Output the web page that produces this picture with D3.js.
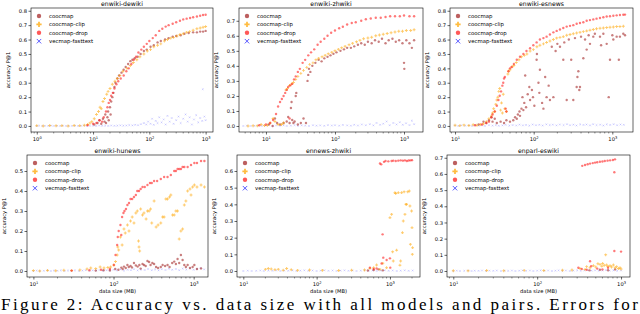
<!DOCTYPE html>
<html>
<head>
<meta charset="utf-8">
<script src="https://cdn.jsdelivr.net/npm/d3@7"></script>
<style>
  body { margin: 0; background: #fff; }
  svg { display: block; }
</style>
</head>
<body>
<div id="chart"></div>
<script>
// ---- data: [data size (MB), accuracy P@1] ----
const series_names = ['coocmap', 'coocmap-clip', 'coocmap-drop', 'vecmap-fasttext'];
const pair_titles = ['enwiki-dewiki', 'enwiki-zhwiki', 'enwiki-esnews', 'enwiki-hunews', 'ennews-zhwiki', 'enparl-eswiki'];

// enwiki-dewiki
const de_cooc = [[10.5,0.01],[12,0.02],[13,0.04],[14,0.015],[15,0.05],[16,0.03],[16.5,0.08],[17,0.02],[18,0.06],[18.5,0.1],[19,0.04],[20,0.13],[20.5,0.08],[21,0.17],[22,0.2],[23,0.23],[24,0.27],[25,0.3],[27,0.33],[29,0.35],[32,0.37],[35,0.39],[38,0.41],[42,0.43],[46,0.45],[50,0.46],[55,0.47],[62,0.48],[70,0.5],[80,0.52],[90,0.53],[105,0.55],[120,0.56],[140,0.58],[160,0.59],[190,0.6],[220,0.61],[260,0.62],[300,0.625],[360,0.63],[420,0.64],[500,0.645],[600,0.65],[700,0.65],[800,0.655],[900,0.655],[1000,0.66]];
const de_clip = [[1,0.002],[1.3,0],[1.7,0.003],[2.2,0.001],[2.8,0.002],[3.6,0],[4.6,0.003],[5.8,0.002],[7,0.005],[8,0.01],[8.8,0.02],[9.5,0.03],[10.5,0.05],[11.5,0.08],[12.5,0.1],[13.3,0.13],[14,0.12],[15,0.17],[16,0.19],[17.5,0.22],[18.5,0.24],[20,0.26],[22,0.29],[24.5,0.31],[27,0.33],[30,0.35],[34,0.38],[40,0.4],[46,0.42],[52,0.44],[60,0.46],[68,0.48],[80,0.5],[92,0.52],[105,0.53],[120,0.55],[140,0.56],[160,0.57],[185,0.59],[210,0.6],[240,0.61],[270,0.615],[310,0.625],[350,0.635],[400,0.64],[460,0.65],[520,0.655],[600,0.665],[700,0.675],[800,0.68],[900,0.685],[1000,0.69]];
const de_drop = [[8,0.005],[10,0.015],[11.5,0.02],[13,0.04],[14.5,0.03],[15.5,0.06],[17,0.1],[18,0.13],[19,0.16],[20,0.18],[21,0.21],[22.5,0.23],[24,0.26],[26,0.29],[28,0.31],[31,0.33],[35,0.35],[39,0.38],[43,0.4],[48,0.43],[53,0.46],[58,0.48],[64,0.51],[72,0.53],[80,0.55],[90,0.57],[100,0.59],[115,0.61],[130,0.63],[150,0.66],[170,0.675],[195,0.69],[220,0.7],[260,0.71],[300,0.72],[350,0.73],[400,0.74],[460,0.745],[530,0.75],[600,0.755],[700,0.76],[800,0.765],[900,0.77],[1000,0.772]];
const de_vec = [[1,0],[1.1,0.002],[1.25,0],[1.4,0.001],[1.6,0],[1.8,0.002],[2,0],[2.3,0.001],[2.6,0],[2.9,0.002],[3.3,0],[3.7,0.001],[4.2,0],[4.8,0.002],[5.4,0],[6.1,0.001],[6.9,0.003],[7.8,0],[8.8,0.002],[10,0.001],[11.3,0],[12.8,0.003],[14.5,0.001],[16.4,0.002],[18.6,0],[21,0.003],[24,0.001],[27,0.002],[30.5,0.004],[34.5,0.002],[39,0.003],[44,0.006],[50,0.004],[56,0.008],[63,0.005],[71,0.012],[80,0.02],[88,0.01],[95,0.03],[105,0.015],[112,0.05],[120,0.008],[130,0.035],[140,0.02],[150,0.06],[165,0.025],[180,0.045],[195,0.01],[210,0.07],[230,0.03],[250,0.055],[270,0.015],[300,0.04],[330,0.065],[360,0.02],[400,0.05],[440,0.08],[480,0.03],[520,0.06],[570,0.01],[620,0.045],[680,0.075],[740,0.025],[800,0.055],[870,0.035],[890,0.255],[950,0.065],[1000,0.04]];

// enwiki-zhwiki
const zh_cooc = [[11,0.01],[12.5,0],[13.5,0.05],[14.5,0.02],[16,0.01],[18,0.02],[20,0.03],[21,0.06],[22,0.02],[23,0.12],[23.5,0.16],[24,0.04],[25,0.02],[26,0.03],[27,0.2],[27.5,0.22],[29,0.01],[32,0.02],[35,0.05],[38,0.02],[40,0.3],[41,0.34],[42,0.38],[44,0.36],[47,0.4],[52,0.42],[58,0.44],[64,0.43],[70,0.45],[78,0.46],[86,0.47],[95,0.48],[105,0.49],[120,0.5],[135,0.51],[150,0.52],[170,0.52],[190,0.53],[215,0.54],[240,0.55],[270,0.54],[300,0.56],[340,0.55],[380,0.57],[430,0.56],[480,0.58],[540,0.55],[600,0.57],[680,0.58],[760,0.56],[850,0.57],[950,0.55],[1000,0.42],[1010,0.38],[1080,0.57],[1200,0.55],[1300,0.52],[1400,0.57]];
const zh_clip = [[5.5,0],[6.5,0.002],[7.5,0.001],[8.5,0.01],[9.5,0.003],[10.5,0.005],[11.5,0.02],[12.7,0.05],[13.5,0.03],[15,0.01],[16.8,0.01],[18,0.02],[19.5,0.24],[20.5,0.25],[22,0.27],[23.5,0.28],[25,0.29],[27,0.31],[29,0.33],[32,0.35],[35,0.37],[39,0.39],[43,0.41],[48,0.42],[53,0.44],[58,0.45],[65,0.46],[72,0.47],[80,0.48],[90,0.49],[100,0.5],[112,0.51],[125,0.52],[140,0.53],[160,0.54],[180,0.55],[205,0.56],[230,0.57],[260,0.58],[300,0.585],[340,0.59],[390,0.6],[440,0.605],[500,0.61],[570,0.615],[650,0.62],[740,0.625],[840,0.63],[950,0.63],[1080,0.635],[1250,0.635],[1400,0.64]];
const zh_drop = [[8,0.005],[10,0.01],[11.5,0.02],[12.7,0.04],[14,0.08],[15,0.13],[16,0.16],[17,0.18],[18,0.2],[19,0.22],[20,0.24],[21,0.26],[22,0.05],[22.5,0.27],[24,0.28],[25.5,0.31],[27,0.33],[29,0.36],[31,0.38],[34,0.42],[37,0.44],[41,0.47],[45,0.49],[50,0.51],[56,0.54],[62,0.56],[70,0.58],[78,0.6],[88,0.62],[100,0.635],[115,0.65],[130,0.66],[150,0.675],[175,0.685],[200,0.69],[240,0.7],[280,0.71],[330,0.715],[390,0.72],[460,0.72],[540,0.725],[630,0.73],[740,0.73],[870,0.73],[1000,0.735],[1200,0.73],[1400,0.73]];
const zh_vec = [[4.7,0],[5.3,0.002],[6,0],[6.8,0.001],[7.7,0.003],[8.7,0],[9.8,0.002],[11,0.01],[12.5,0],[14,0.003],[16,0.001],[18,0.004],[20,0],[23,0.002],[26,0.006],[29,0.001],[33,0.004],[37,0.002],[42,0],[48,0.005],[54,0.002],[61,0.004],[70,0.001],[79,0.006],[90,0.003],[100,0.005],[115,0.002],[130,0.007],[150,0.004],[170,0.002],[190,0.008],[215,0.003],[245,0.01],[280,0.005],[320,0.012],[360,0.004],[400,0.02],[450,0.008],[500,0.015],[560,0.03],[620,0.005],[700,0.02],[780,0.01],[870,0.025],[960,0.008],[1070,0.018],[1200,0.006],[1300,0.035],[1400,0.012]];

// enwiki-esnews
const es_cooc = [[20,0.01],[23,0.03],[25,0.02],[27,0.04],[29,0.06],[30,0.03],[32,0.05],[34,0.02],[38,0.03],[42,0.02],[45,0.04],[50,0.03],[55,0.04],[58,0.06],[61,0.05],[63,0.08],[66,0.1],[67,0.07],[70,0.12],[72,0.2],[74,0.11],[76,0.16],[78,0.35],[80,0.13],[84,0.22],[88,0.27],[90,0.18],[95,0.25],[98,0.2],[102,0.14],[109,0.46],[110,0.5],[115,0.3],[118,0.23],[120,0.39],[128,0.16],[133,0.12],[140,0.34],[146,0.2],[155,0.28],[161,0.18],[170,0.55],[178,0.2],[190,0.52],[200,0.57],[216,0.55],[238,0.46],[245,0.58],[263,0.18],[280,0.6],[300,0.46],[319,0.18],[335,0.61],[352,0.27],[360,0.34],[370,0.38],[380,0.25],[388,0.27],[400,0.62],[428,0.47],[450,0.6],[472,0.53],[500,0.63],[520,0.57],[573,0.62],[600,0.64],[697,0.62],[720,0.56],[769,0.64],[848,0.57],[900,0.2],[934,0.46],[1000,0.63],[1030,0.6],[1135,0.62],[1210,0.46],[1250,0.62],[1380,0.64],[1450,0.63]];
const es_clip = [[10,0.005],[11.5,0.002],[13,0.006],[15,0.003],[17,0.008],[19,0.005],[21,0.01],[23,0.015],[25,0.03],[27,0.05],[29,0.07],[30,0.09],[31,0.12],[32,0.1],[33,0.15],[34,0.18],[35,0.2],[36,0.24],[37,0.26],[38,0.11],[39,0.16],[40,0.09],[41,0.22],[43,0.12],[45,0.1],[47,0.36],[48,0.38],[50,0.39],[53,0.41],[56,0.42],[60,0.44],[65,0.46],[70,0.48],[76,0.49],[82,0.5],[90,0.52],[99,0.53],[110,0.55],[120,0.56],[133,0.57],[146,0.58],[161,0.59],[178,0.6],[196,0.61],[216,0.615],[238,0.62],[263,0.63],[290,0.635],[319,0.64],[352,0.645],[388,0.65],[428,0.655],[472,0.66],[520,0.665],[573,0.67],[630,0.675],[697,0.678],[769,0.68],[848,0.683],[934,0.685],[1030,0.687],[1135,0.69],[1250,0.69],[1380,0.692]];
const es_drop = [[18,0.005],[22,0.01],[25,0.02],[27,0.03],[29,0.06],[30,0.08],[32,0.1],[34,0.14],[35.6,0.18],[37,0.21],[38.5,0.24],[40,0.28],[41,0.3],[42,0.33],[43,0.34],[44,0.12],[45,0.1],[47.7,0.38],[50,0.4],[52.5,0.41],[56,0.43],[61,0.46],[67,0.48],[74,0.5],[81,0.52],[90,0.54],[99,0.56],[109,0.58],[120,0.6],[133,0.61],[146,0.62],[161,0.635],[178,0.65],[196,0.66],[216,0.67],[238,0.68],[263,0.69],[290,0.695],[319,0.7],[352,0.71],[388,0.715],[428,0.72],[472,0.73],[520,0.735],[573,0.74],[630,0.745],[697,0.75],[769,0.755],[848,0.76],[934,0.762],[1030,0.765],[1135,0.768],[1250,0.77],[1380,0.772],[1450,0.773]];
const es_vec = [[10,0.003],[11,0],[12,0.005],[13.5,0.001],[15,0.004],[16.5,0],[18,0.006],[20,0.002],[22,0.004],[24,0],[27,0.005],[30,0.002],[33,0.006],[36,0.001],[40,0.004],[44,0.008],[49,0.002],[54,0.006],[60,0.003],[66,0.009],[73,0.004],[80,0.007],[88,0.002],[97,0.01],[107,0.005],[118,0.008],[130,0.003],[145,0.011],[160,0.006],[175,0.009],[195,0.004],[215,0.01],[240,0.006],[265,0.012],[290,0.005],[320,0.009],[350,0.003],[390,0.011],[430,0.007],[470,0.01],[520,0.004],[570,0.012],[630,0.006],[700,0.009],[770,0.003],[850,0.011],[940,0.007],[1040,0.012],[1150,0.005],[1270,0.01],[1400,0.008]];

// enwiki-hunews
const hu_cooc = [[60,0.002],[75,0.004],[90,0.003],[105,0.01],[115,0.006],[125,0.017],[130,0.01],[135,0.022],[142,0.015],[149,0.03],[155,0.02],[163,0.025],[170,0.018],[180,0.04],[190,0.028],[200,0.022],[210,0.03],[218,0.012],[230,0.035],[240,0.03],[252,0.025],[265,0.05],[278,0.045],[290,0.03],[305,0.04],[321,0.035],[340,0.02],[360,0.015],[389,0.02],[410,0.03],[440,0.025],[472,0.03],[500,0.02],[540,0.04],[572,0.047],[600,0.035],[630,0.06],[660,0.04],[693,0.08],[728,0.055],[764,0.03],[800,0.02],[841,0.03],[900,0.015],[971,0.02],[1020,0.03],[1100,0.01],[1236,0.013]];
const hu_clip = [[10,0.002],[12,0],[15,0.003],[19,0.001],[24,0.004],[30,0.002],[38,0.005],[46.7,0.01],[52,0.015],[60,0.012],[68,0.02],[76,0.015],[85,0.018],[92,0.02],[101,0.03],[106,0.047],[111,0.08],[113,0.12],[116,0.105],[122,0.17],[128,0.13],[135,0.21],[140,0.19],[149,0.23],[156,0.2],[163,0.25],[171,0.27],[180,0.24],[190,0.29],[198,0.3],[205,0.15],[208,0.12],[212,0.1],[218,0.31],[230,0.28],[240,0.29],[255,0.26],[265,0.3],[278,0.3],[290,0.31],[300,0.24],[321,0.35],[340,0.22],[360,0.23],[389,0.24],[410,0.27],[428,0.27],[450,0.36],[472,0.36],[500,0.37],[519,0.38],[545,0.28],[572,0.28],[600,0.3],[630,0.3],[660,0.16],[693,0.2],[728,0.21],[764,0.33],[800,0.35],[841,0.4],[900,0.41],[927,0.38],[971,0.42],[1020,0.43],[1100,0.42],[1236,0.43],[1362,0.42]];
const hu_drop = [[30,0.002],[50,0.004],[70,0.006],[90,0.01],[101,0.03],[106,0.08],[111,0.13],[113,0.17],[116,0.2],[122,0.23],[125,0.18],[128,0.27],[133,0.29],[137,0.3],[143,0.31],[149,0.33],[156,0.34],[163,0.36],[171,0.36],[180,0.37],[190,0.38],[198,0.4],[208,0.4],[218,0.41],[230,0.42],[245,0.42],[265,0.43],[285,0.44],[300,0.44],[321,0.45],[350,0.45],[389,0.46],[428,0.47],[472,0.47],[519,0.48],[572,0.5],[600,0.5],[630,0.51],[660,0.51],[693,0.51],[728,0.52],[764,0.52],[841,0.52],[927,0.53],[1020,0.54],[1100,0.54],[1236,0.55],[1362,0.55]];
const hu_vec = [[10,0],[11,0.002],[12,0],[13.5,0.001],[15,0.003],[16.5,0],[18,0.002],[20,0.001],[22,0.003],[24.5,0],[27,0.002],[30,0.001],[33,0.003],[37,0],[41,0.002],[45,0.004],[50,0.001],[55,0.003],[61,0.002],[67,0.005],[74,0.001],[82,0.004],[90,0.002],[100,0.006],[110,0.003],[122,0.008],[135,0.002],[150,0.006],[165,0.004],[180,0.009],[200,0.003],[220,0.007],[245,0.005],[270,0.01],[300,0.004],[330,0.008],[365,0.003],[400,0.009],[445,0.005],[490,0.011],[540,0.006],[600,0.01],[660,0.004],[730,0.012],[810,0.007],[900,0.013],[1000,0.006],[1100,0.01],[1220,0.015],[1350,0.008]];

// ennews-zhwiki
const nz_cooc = [[500,0.003],[600,0.006],[700,0.01],[800,0.004]];
const nz_clip = [[20,0.01],[21.9,0.015],[24,0.012],[27,0.008],[30,0.01],[35,0.005],[39,0.015],[45,0.008],[55,0.004],[80,0.006],[120,0.004],[200,0.003],[300,0.005],[450,0.006],[533,0.016],[600,0.02],[658,0.036],[731,0.01],[800,0.046],[900,0.02],[1000,0.32],[1054,0.34],[1088,0.115],[1110,0.06],[1169,0.47],[1200,0.465],[1233,0.125],[1300,0.47],[1368,0.035],[1400,0.06],[1442,0.47],[1480,0.23],[1520,0.3],[1560,0.475],[1602,0.34],[1650,0.4],[1689,0.4],[1750,0.475],[1835,0.48],[1874,0.39],[1900,0.16],[1974,0.36],[2000,0.26],[2020,0.1],[2037,0.14]];
const nz_drop = [[533,0.02],[600,0.012],[658,0.015],[731,0.645],[760,0.64],[770,0.045],[794,0.22],[811,0.08],[830,0.655],[870,0.66],[901,0.066],[950,0.658],[1000,0.076],[1010,0.02],[1054,0.66],[1110,0.662],[1200,0.66],[1300,0.662],[1400,0.664],[1500,0.662],[1600,0.664],[1700,0.66],[1800,0.663],[1900,0.664],[2000,0.665]];
const nz_vec = [[10,0],[11.5,0.002],[13,0],[15,0.001],[17,0.003],[19,0],[22,0.002],[25,0.001],[28,0.003],[32,0],[36,0.002],[41,0.001],[47,0.003],[53,0],[60,0.002],[68,0.004],[77,0.001],[88,0.003],[100,0],[113,0.002],[128,0.004],[145,0.001],[165,0.003],[187,0],[212,0.002],[240,0.004],[272,0.001],[310,0.003],[350,0],[400,0.002],[450,0.004],[510,0.001],[580,0.003],[660,0],[750,0.002],[850,0.004],[960,0.001],[1090,0.003],[1240,0],[1400,0.002],[1590,0.004],[1800,0.001],[2040,0.003]];

// enparl-eswiki
const pe_cooc = [[420,0.004],[560,0.008],[700,0.005],[850,0.01]];
const pe_clip = [[10,0.002],[15,0.001],[25,0.003],[40,0.002],[70,0.004],[120,0.003],[200,0.005],[260,0.006],[324,0.016],[372,0.01],[389,0.027],[427,0.02],[468,0.033],[500,0.025],[530,0.045],[562,0.041],[590,0.03],[604,0.047],[630,0.035],[656,0.1],[674,0.037],[700,0.028],[739,0.033],[770,0.025],[810,0.037],[850,0.02],[887,0.027],[930,0.015],[972,0.02],[1000,0.012]];
const pe_drop = [[310,0.02],[340,0.012],[389,0.008],[427,0.06],[440,0.03],[520,0.015],[600,0.01],[700,0.02],[345,0.65],[372,0.655],[400,0.66],[427,0.664],[460,0.667],[490,0.67],[520,0.672],[560,0.675],[600,0.677],[640,0.68],[690,0.682],[740,0.684],[800,0.686],[832,0.61],[832,0.124],[847,0.69],[1000,0.12]];
const pe_vec = [[10,0],[11,0.002],[12,0],[13.5,0.001],[15,0.003],[16.5,0],[18,0.002],[20,0.001],[22,0.003],[24.5,0],[27,0.002],[30,0.001],[33,0.003],[37,0],[41,0.002],[45,0.001],[50,0.003],[55,0],[61,0.002],[67,0.004],[74,0.001],[82,0.003],[90,0],[100,0.002],[110,0.004],[122,0.001],[135,0.003],[150,0],[165,0.002],[180,0.004],[200,0.001],[220,0.003],[245,0],[270,0.002],[300,0.004],[330,0.001],[365,0.003],[400,0.005],[445,0.002],[490,0.004],[540,0.001],[600,0.003],[660,0.006],[730,0.002],[810,0.004],[900,0.001],[1000,0.003]];

// axes
const x_doms = [[0.79,1352],[4.07,1884],[8.63,1832],[8.32,1510],[8.2,2570],[8.41,1279]];
const y_doms = [[-0.042,0.819],[-0.04,0.785],[-0.042,0.819],[-0.03,0.58],[-0.036,0.696],[-0.037,0.717]];
const x_ticks = [[1,10,100,1000],[10,100,1000],[10,100,1000],[10,100,1000],[10,100,1000],[10,100,1000]];
const y_ticks = [
  [0,0.1,0.2,0.3,0.4,0.5,0.6,0.7,0.8],
  [0,0.1,0.2,0.3,0.4,0.5,0.6,0.7],
  [0,0.1,0.2,0.3,0.4,0.5,0.6,0.7,0.8],
  [0,0.1,0.2,0.3,0.4,0.5],
  [0,0.1,0.2,0.3,0.4,0.5,0.6],
  [0,0.1,0.2,0.3,0.4,0.5,0.6,0.7]
];
const pair_series = [
  [de_cooc, de_clip, de_drop, de_vec],
  [zh_cooc, zh_clip, zh_drop, zh_vec],
  [es_cooc, es_clip, es_drop, es_vec],
  [hu_cooc, hu_clip, hu_drop, hu_vec],
  [nz_cooc, nz_clip, nz_drop, nz_vec],
  [pe_cooc, pe_clip, pe_drop, pe_vec]
];

// layout of the 6 plot boxes
const boxes = [
  { l: 31, r: 213, t: 8, b: 132 },
  { l: 239, r: 423, t: 8, b: 132 },
  { l: 450, r: 633, t: 8, b: 132 },
  { l: 27, r: 208, t: 155, b: 277 },
  { l: 237, r: 420, t: 155, b: 277 },
  { l: 447, r: 630, t: 155, b: 277 }
];

const colors = ['#a52a2a', '#ffa500', '#ff2020', '#2020ff'];
const font = 'DejaVu Sans, sans-serif';

const svg = d3.select('#chart').append('svg')
  .attr('width', 640).attr('height', 314)
  .attr('viewBox', '0 0 640 314');

svg.append('rect').attr('width', 640).attr('height', 314).attr('fill', '#fff');

function marker(sel, k, size) {
  if (k === 0 || k === 2) {
    sel.append('circle').attr('r', size).attr('fill', colors[k]);
  } else if (k === 1) {
    sel.append('path').attr('d', d3.symbol(d3.symbolCross, size * size * 3.2)()).attr('fill', colors[k]);
  } else {
    sel.append('path').attr('d', d3.symbol(d3.symbolTimes, size * size * 3)())
      .attr('fill', 'none').attr('stroke', colors[k]).attr('stroke-width', size * 0.45);
  }
}

pair_titles.forEach((title, i) => {
  const bx = boxes[i];
  const x_sc = d3.scaleLog().domain(x_doms[i]).range([bx.l, bx.r]);
  const y_sc = d3.scaleLinear().domain(y_doms[i]).range([bx.b, bx.t]);
  const g = svg.append('g');

  // points (vecmap drawn first, then coocmap variants)
  const order = [3, 0, 1, 2];
  order.forEach(k => {
    const pts = pair_series[i][k];
    g.append('g').selectAll('g')
      .data(pts)
      .enter()
      .append('g')
      .attr('transform', d => `translate(${x_sc(d[0])},${y_sc(d[1])})`)
      .attr('opacity', k === 3 ? 0.4 : 0.6)
      .each(function () { marker(d3.select(this), k, k === 3 ? 0.9 : 1.2); });
  });

  // x axis
  const xa = g.append('g').attr('transform', `translate(0,${bx.b})`)
    .call(d3.axisBottom(x_sc).tickValues(x_ticks[i]).tickSize(2.5).tickPadding(1.5).tickFormat(() => ''));
  xa.select('.domain').remove();
  xa.selectAll('line').attr('stroke', '#000').attr('stroke-width', 0.6);
  xa.selectAll('.tick text').each(function (d) {
    const t = d3.select(this)
      .attr('font-family', font).attr('font-size', 5.2).attr('fill', '#000')
      .attr('dy', '0.95em');
    t.append('tspan').text('10');
    t.append('tspan').attr('dy', '-0.45em').attr('font-size', 3.6).text(Math.round(Math.log10(d)));
  });
  // minor ticks
  const minors = [];
  const [d0, d1] = x_doms[i];
  for (let e = Math.floor(Math.log10(d0)); e <= Math.ceil(Math.log10(d1)); e++) {
    for (let m = 2; m <= 9; m++) {
      const v = m * Math.pow(10, e);
      if (v > d0 && v < d1) minors.push(v);
    }
  }
  g.append('g').selectAll('line').data(minors).enter().append('line')
    .attr('x1', d => x_sc(d)).attr('x2', d => x_sc(d))
    .attr('y1', bx.b).attr('y2', bx.b + 1.5)
    .attr('stroke', '#000').attr('stroke-width', 0.4);

  // y axis
  const ya = g.append('g').attr('transform', `translate(${bx.l},0)`)
    .call(d3.axisLeft(y_sc).tickValues(y_ticks[i]).tickSize(2.5).tickPadding(1.5).tickFormat(d3.format('.1f')));
  ya.select('.domain').remove();
  ya.selectAll('line').attr('stroke', '#000').attr('stroke-width', 0.6);
  ya.selectAll('text').attr('font-family', font).attr('font-size', 5.2).attr('fill', '#000');

  // frame
  g.append('rect')
    .attr('x', bx.l).attr('y', bx.t)
    .attr('width', bx.r - bx.l).attr('height', bx.b - bx.t)
    .attr('fill', 'none').attr('stroke', '#000').attr('stroke-width', 0.6);

  // title
  g.append('text')
    .attr('x', (bx.l + bx.r) / 2).attr('y', bx.t - 2)
    .attr('text-anchor', 'middle')
    .attr('font-family', font).attr('font-size', 6.2)
    .text(title);

  // y label
  g.append('text')
    .attr('transform', `translate(${bx.l - 21},${(bx.t + bx.b) / 2}) rotate(-90)`)
    .attr('text-anchor', 'middle')
    .attr('font-family', font).attr('font-size', 5.2)
    .text('accuracy P@1');

  // x label (bottom row only)
  if (i >= 3) {
    g.append('text')
      .attr('x', (bx.l + bx.r) / 2).attr('y', bx.b + 16)
      .attr('text-anchor', 'middle')
      .attr('font-family', font).attr('font-size', 5.2)
      .text('data size (MB)');
  }

  // legend
  const lg = g.append('g').attr('transform', `translate(${bx.l + 8},${bx.t + 8})`);
  series_names.forEach((name, k) => {
    const row = lg.append('g').attr('transform', `translate(0,${k * 8.4})`);
    const m = row.append('g').attr('opacity', 0.75);
    marker(m, k, 2.2);
    row.append('text')
      .attr('x', 10).attr('y', 1.9)
      .attr('font-family', font).attr('font-size', 5.4)
      .text(name);
  });
});

// caption line below the figure, justified to the full width
svg.append('text')
  .attr('x', 1).attr('y', 310)
  .attr('font-family', 'Liberation Serif, serif').attr('font-size', 17)
  .attr('textLength', 637).attr('lengthAdjust', 'spacing')
  .text('Figure 2: Accuracy vs. data size with all models and pairs. Errors for');
</script>
</body>
</html>
